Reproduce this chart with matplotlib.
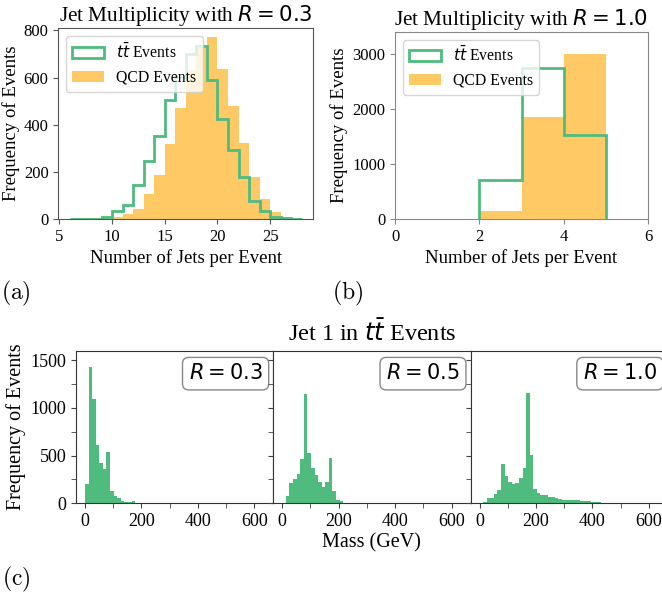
import numpy as np
import matplotlib
matplotlib.use('Agg')
import matplotlib.pyplot as plt
from matplotlib.ticker import MultipleLocator

plt.rcParams['font.family'] = ['Liberation Serif', 'DejaVu Serif']
plt.rcParams['mathtext.fontset'] = 'dejavusans'

GREEN = '#4fbb7f'
ORANGE = '#ffc966'

# ---- (a) jet multiplicity, R = 0.3 ----
nj03_edges = list(range(6, 29))
nj03_tt = [1, 1, 2, 10, 34, 61, 144, 244, 351, 505, 602, 701, 734, 591,
           425, 293, 177, 78, 34, 10, 3, 1]
nj03_qcd = [0, 0, 0, 2, 9, 20, 43, 108, 185, 318, 470, 634, 725, 770,
            635, 480, 322, 178, 84, 28, 6, 1]

# ---- (b) jet multiplicity, R = 1.0 ----
nj10_edges = [2, 3, 4, 5]
nj10_tt = [715, 2750, 1525]
nj10_qcd = [145, 1855, 2990]

# ---- (c) leading-jet mass in ttbar events ----
mass_edges = np.linspace(0, 635, 51)
mass_r03 = [199, 1426, 1098, 610, 418, 356, 537, 132, 73, 52, 28, 14, 14, 28, 3]
mass_r05 = [0, 77, 209, 255, 307, 464, 1150, 523, 373, 296, 220, 174, 227, 471,
            132, 31, 21, 7, 3]
mass_r10 = [0, 14, 59, 59, 98, 143, 411, 282, 223, 202, 213, 265, 370, 1154,
            506, 153, 108, 87, 87, 66, 63, 52, 42, 35, 31, 31, 31, 31, 28, 21,
            21, 14, 14, 14, 7, 7, 7, 3, 3, 3]
mass_labels = [r'$R = 0.3$', r'$R = 0.5$', r'$R = 1.0$']

fig = plt.figure(figsize=(6.62, 6.06), dpi=100)

ax1 = fig.add_axes([0.0881, 0.6386, 0.3852, 0.3144])
ax2 = fig.add_axes([0.5967, 0.6378, 0.3822, 0.3099])
w = 0.298
axc = [fig.add_axes([0.1148 + i * w, 0.1695, w, 0.2518]) for i in range(3)]


def style_spines(ax, color):
    for s in ax.spines.values():
        s.set_color(color)
    ax.tick_params(color=color)


# (a)
cen = np.array(nj03_edges[:-1]) + 0.5
ax1.hist(cen, bins=nj03_edges, weights=nj03_qcd, color=ORANGE, label='QCD Events')
ax1.hist(cen, bins=nj03_edges, weights=nj03_tt, histtype='step', color=GREEN,
         lw=2, label=r'$t\bar{t}$ Events')
ax1.set_xlim(4.9, 29.1)
ax1.set_ylim(0, 808)
ax1.set_xticks([5, 10, 15, 20, 25])
ax1.set_yticks([0, 200, 400, 600, 800])
ax1.tick_params(labelsize=12, length=3.5)
ax1.set_xlabel('Number of Jets per Event', fontsize=13.5, labelpad=3)
ax1.set_ylabel('Frequency of Events', fontsize=13.5, labelpad=3)
ax1.set_title(r'Jet Multiplicity with $R = 0.3$', fontsize=15.3, pad=5)
h, l = ax1.get_legend_handles_labels()
ax1.legend(h[::-1], l[::-1], loc='upper left', fontsize=11.3)
style_spines(ax1, '#555555')

# (b)
cen = np.array(nj10_edges[:-1]) + 0.5
ax2.hist(cen, bins=nj10_edges, weights=nj10_qcd, color=ORANGE, label='QCD Events')
ax2.hist(cen, bins=nj10_edges, weights=nj10_tt, histtype='step', color=GREEN,
         lw=2, label=r'$t\bar{t}$ Events')
ax2.set_xlim(0, 6)
ax2.set_ylim(0, 3400)
ax2.set_xticks([0, 2, 4, 6])
ax2.set_yticks([0, 1000, 2000, 3000])
ax2.tick_params(labelsize=12, length=3.5)
ax2.set_xlabel('Number of Jets per Event', fontsize=13.5, labelpad=3)
ax2.set_ylabel('Frequency of Events', fontsize=13.5, labelpad=3)
ax2.set_title(r'Jet Multiplicity with $R = 1.0$', fontsize=15.3, pad=5)
h, l = ax2.get_legend_handles_labels()
ax2.legend(h[::-1], l[::-1], loc='upper left', fontsize=11.3)
style_spines(ax2, '#888888')

# (c)
for i, (ax, vals, lab) in enumerate(zip(axc, [mass_r03, mass_r05, mass_r10], mass_labels)):
    e = mass_edges[:len(vals) + 1]
    cen = (e[:-1] + e[1:]) / 2
    ax.hist(cen, bins=e, weights=vals, color=GREEN)
    ax.set_xlim(-31.75, 666.75)
    ax.set_ylim(0, 1600)
    ax.xaxis.set_major_locator(MultipleLocator(200))
    ax.xaxis.set_minor_locator(MultipleLocator(100))
    ax.yaxis.set_major_locator(MultipleLocator(500))
    ax.yaxis.set_minor_locator(MultipleLocator(250))
    ax.tick_params(which='both', labelsize=13, length=3.5, color='#444444')
    if i > 0:
        ax.tick_params(axis='y', labelleft=False)
    for s in ax.spines.values():
        s.set_color('#333333')
    ax.text(0.945, 0.915, lab, transform=ax.transAxes, ha='right', va='top',
            fontsize=15,
            bbox=dict(boxstyle='round,pad=0.3', fc='white', ec='#888888', lw=1))

axc[0].set_ylabel('Frequency of Events', fontsize=14.5, labelpad=3)
axc[1].set_xlabel('Mass (GeV)', fontsize=14.5, labelpad=2)
axc[1].set_title(r'Jet 1 in $t\bar{t}$ Events', fontsize=17.5, pad=7)

fig.text(0.001, 0.5165, r'$\mathrm{(a)}$', fontsize=17, ha='left', va='center',
         math_fontfamily='cm')
fig.text(0.501, 0.5165, r'$\mathrm{(b)}$', fontsize=17, ha='left', va='center',
         math_fontfamily='cm')
fig.text(0.003, 0.043, r'$\mathrm{(c)}$', fontsize=17, ha='left', va='center',
         math_fontfamily='cm')

fig.savefig('out.png', dpi=100)
